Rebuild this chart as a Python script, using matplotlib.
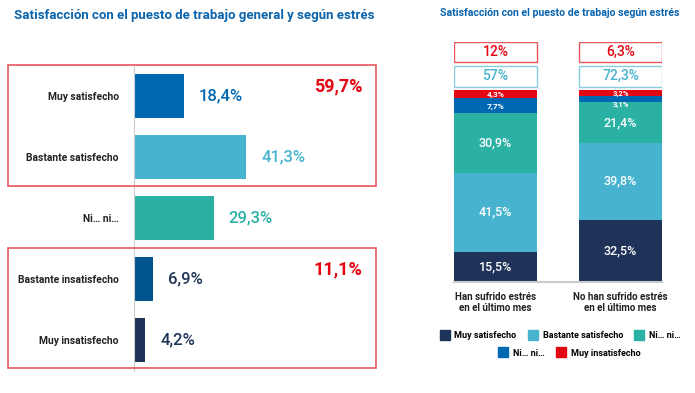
import matplotlib.pyplot as plt
from matplotlib.patches import Rectangle
from matplotlib.lines import Line2D

plt.rcParams['font.family'] = ['Roboto', 'DejaVu Sans']

# left chart data
categories = ['Muy satisfecho', 'Bastante satisfecho', 'Ni… ni…',
              'Bastante insatisfecho', 'Muy insatisfecho']
values = [18.4, 41.3, 29.3, 6.9, 4.2]
group_totals = [59.7, 11.1]

# right chart data
groups = ['Han sufrido estrés\nen el último mes',
          'No han sufrido estrés\nen el último mes']
muy_sat = [15.5, 32.5]
bast_sat = [41.5, 39.8]
ni_teal = [30.9, 21.4]
ni_blue = [7.7, 3.1]
muy_insat = [4.3, 3.2]
sat_box = ['57%', '72,3%']
insat_box = ['12%', '6,3%']

NAVY = '#1f3359'
LBLUE = '#47b3cf'
TEAL = '#2bb0a4'
BLUE = '#0068b3'
DBLUE = '#00558f'
RED = '#e30613'
BOXRED = '#e8555b'
BOXBLUE = '#86cde0'
TITLE = '#0a64ad'

W, H = 695, 393
fig = plt.figure(figsize=(W / 100, H / 100), dpi=100)


def fr(x0, y0, x1, y1):
    # pixel box -> figure fraction [left, bottom, width, height]
    return [x0 / W, 1 - y1 / H, (x1 - x0) / W, (y1 - y0) / H]


def fmt(v):
    return f'{v:.1f}'.replace('.', ',') + '%'


# ---------- left ----------
fig.text(14 / W, 1 - 15 / H, 'Satisfacción con el puesto de trabajo general y según estrés',
         color=TITLE, fontsize=9.5, fontweight='bold', va='center', ha='left')

ax = fig.add_axes(fr(134, 65.5, 379, 370.5))
bar_colors = [BLUE, LBLUE, TEAL, DBLUE, NAVY]
text_colors = [BLUE, LBLUE, TEAL, NAVY, NAVY]
ypos = list(range(len(categories)))
ax.barh(ypos, values, height=0.72, color=bar_colors)
ax.set_xlim(0, 90)
ax.set_ylim(4.5, -0.5)
for y, v, c in zip(ypos, values, text_colors):
    ax.text(v + 5.5, y, fmt(v), color=c, fontsize=12, fontweight='medium',
            va='center', ha='left')
for s in ['top', 'right', 'bottom']:
    ax.spines[s].set_visible(False)
ax.spines['left'].set_color('#cccccc')
ax.set_xticks([])
ax.set_yticks(ypos)
ax.set_yticklabels(categories, fontsize=7.4, fontweight='bold', color='#222222')
ax.tick_params(axis='y', length=0, pad=11)

# red group boxes
for (y0, y1), tot, ty in zip([(65, 186), (248, 368)], group_totals, [0, 3]):
    fig.patches.append(Rectangle((8 / W, 1 - y1 / H), (376 - 8) / W, (y1 - y0) / H,
                                 transform=fig.transFigure, fill=False,
                                 edgecolor=BOXRED, linewidth=1.2))
    ax.text(84, ty - 0.15, fmt(tot), color=RED, fontsize=13, fontweight='bold',
            va='center', ha='right')

# ---------- right ----------
fig.text(560 / W, 1 - 13 / H, 'Satisfacción con el puesto de trabajo según estrés',
         color=TITLE, fontsize=7.6, fontweight='bold', va='center', ha='center')

ax2 = fig.add_axes(fr(454, 42, 662, 282))
xs = [0, 1]
bw = 0.66
stack = [(muy_sat, NAVY), (bast_sat, LBLUE), (ni_teal, TEAL),
         (ni_blue, BLUE), (muy_insat, RED)]
bottoms = [0, 0]
for vals, col in stack:
    ax2.bar(xs, vals, bw, bottom=bottoms, color=col)
    for x, v, b in zip(xs, vals, bottoms):
        ty = b + v / 2
        if v < 10:
            # thin segment: small label, pushed down a little when very thin
            ty -= 0.3 if v >= 4 or col == RED else 2.6
            ax2.text(x, ty, fmt(v), color='white', fontsize=6 if v >= 4 else 5.6,
                     fontweight='bold', ha='center', va='center')
        else:
            ax2.text(x, ty, fmt(v), color='white', fontsize=9, fontweight='medium',
                     ha='center', va='center')
    bottoms = [b + v for b, v in zip(bottoms, vals)]

for x, sb, ib in zip(xs, sat_box, insat_box):
    ax2.add_patch(Rectangle((x - bw / 2, 101.6), bw, 10.9, fill=False,
                            edgecolor=BOXBLUE, linewidth=1))
    ax2.text(x, 107.1, sb, color=LBLUE, fontsize=10, fontweight='medium',
             ha='center', va='center')
    ax2.add_patch(Rectangle((x - bw / 2, 114.6), bw, 10.4, fill=False,
                            edgecolor=BOXRED, linewidth=1))
    ax2.text(x, 119.8, ib, color=RED, fontsize=10, fontweight='medium',
             ha='center', va='center')

ax2.set_xlim(-0.33, 1.33)
ax2.set_ylim(0, 125)
for s in ['top', 'right', 'left']:
    ax2.spines[s].set_visible(False)
ax2.spines['bottom'].set_color('#cccccc')
ax2.spines['bottom'].set_linewidth(1.5)
ax2.set_yticks([])
ax2.set_xticks([])
for x, g in zip(xs, groups):
    ax2.text(x, -5, g, fontsize=7, fontweight='bold', color='#222222',
             ha='center', va='top', multialignment='center')

labels = ['Muy satisfecho', 'Bastante satisfecho', 'Ni… ni…', 'Ni… ni…', 'Muy insatisfecho']
handles = [Line2D([], [], marker='s', linestyle='', markersize=7, color=c)
           for _, c in stack]
leg_kw = dict(frameon=False, handlelength=0.8, handletextpad=0.7, columnspacing=1.4,
              prop={'size': 6.5, 'weight': 'bold'})
fig.legend(handles[:3], labels[:3], ncol=3, loc='center',
           bbox_to_anchor=(561 / W, 1 - 336 / H), **leg_kw)
fig.legend(handles[3:], labels[3:], ncol=2, loc='center',
           bbox_to_anchor=(570 / W, 1 - 353 / H), **leg_kw)

fig.savefig('out.png', dpi=100)
